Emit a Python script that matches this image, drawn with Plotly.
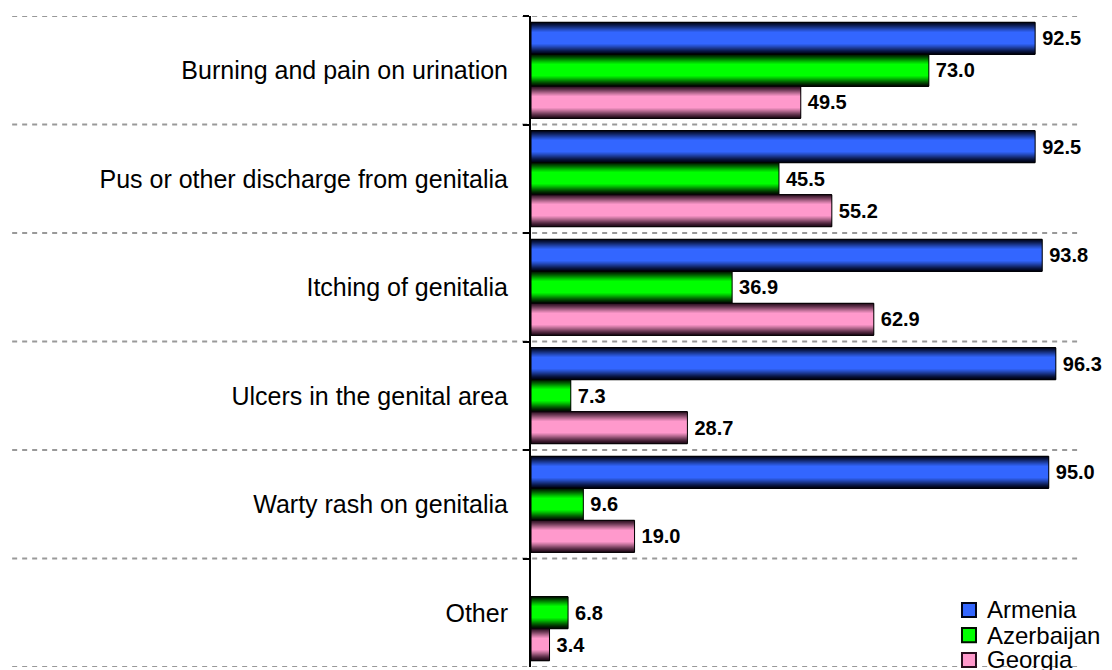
import plotly.graph_objects as go
import numpy as np

categories = ['Burning and pain on urination', 'Pus or other discharge from genitalia',
              'Itching of genitalia', 'Ulcers in the genital area',
              'Warty rash on genitalia', 'Other']
armenia = [92.5, 92.5, 93.8, 96.3, 95.0, None]
azerbaijan = [73.0, 45.5, 36.9, 7.3, 9.6, 6.8]
georgia = [49.5, 55.2, 62.9, 28.7, 19.0, 3.4]
countries = ['Armenia', 'Azerbaijan', 'Georgia']
series = [armenia, azerbaijan, georgia]

# bright / dark colour of each country's shaded bar
bright = [(51, 102, 255), (0, 255, 0), (255, 153, 204)]
dark = [(0, 4, 24), (0, 16, 0), (40, 14, 30)]

font = 'Arial, Liberation Sans, sans-serif'
bar_w = 0.295
n_strips = 32


def shade(c_bright, c_dark, t):
    f = min(1.0, 1.25 * np.sin(np.pi * t) ** 1.4)
    c = [int(d + (b - d) * f) for b, d in zip(c_bright, c_dark)]
    return 'rgb(%d,%d,%d)' % tuple(c)


fig = go.Figure()
for i, (name, vals) in enumerate(zip(countries, series)):
    base = -1.5 * bar_w + i * bar_w
    # thin strips across the bar thickness to fake the gradient
    for k in range(n_strips):
        t = (k + 0.5) / n_strips
        fig.add_trace(go.Bar(
            y=categories, x=vals, orientation='h',
            offset=base + k * bar_w / n_strips,
            width=bar_w / n_strips * 1.3,
            marker_color=shade(bright[i], dark[i], t),
            marker_line_width=0,
            showlegend=False, hoverinfo='skip'
        ))
    fig.add_trace(go.Bar(
        y=categories, x=vals, orientation='h', name=name,
        offset=base, width=bar_w,
        marker=dict(color='rgba(0,0,0,0)', line=dict(color='black', width=1)),
        texttemplate='\u2009%{x:.1f}', textposition='outside',
        textfont=dict(family=font, size=20, color='black', weight='bold'),
        constraintext='none', cliponaxis=False,
        showlegend=False
    ))

# dashed separators between categories, running under the labels too
for i in range(len(categories) + 1):
    fig.add_shape(type='line', xref='paper', yref='y',
                  x0=-0.952, x1=1.002, y0=i - 0.5, y1=i - 0.5,
                  line=dict(color='#999999', width=2, dash='5px,5px'),
                  layer='below')

# hand-made legend in the lower right corner
leg_y = [0.0876, 0.049, 0.0108]
for i, name in enumerate(countries):
    fig.add_shape(type='rect', xref='paper', yref='paper',
                  x0=0.7908, x1=0.8165, y0=leg_y[i] - 0.0108, y1=leg_y[i] + 0.0108,
                  fillcolor='rgb(%d,%d,%d)' % bright[i],
                  line=dict(color='rgb(%d,%d,%d)' % dark[i], width=2))
    fig.add_annotation(text=name, xref='paper', yref='paper',
                       x=0.8330, y=leg_y[i], xanchor='left', yanchor='middle',
                       showarrow=False, font=dict(family=font, size=24, color='black'))

# margins offset by the page's 8px body margin
fig.update_layout(
    width=1112, height=670,
    barmode='overlay',
    plot_bgcolor='white', paper_bgcolor='white',
    margin=dict(l=523, r=44, t=8, b=11),
    font=dict(family=font, color='black'),
    xaxis=dict(range=[0, 100], visible=False),
    yaxis=dict(type='category', categoryorder='array', categoryarray=categories,
               range=[len(categories) - 0.5, -0.5],
               showline=True, linecolor='black', linewidth=2,
               ticks='outside', tickson='boundaries', ticklen=6,
               tickwidth=2, tickcolor='black', showgrid=False,
               ticklabelstandoff=16,
               tickfont=dict(family=font, size=25, color='black')),
)

fig.write_html('out.html')
